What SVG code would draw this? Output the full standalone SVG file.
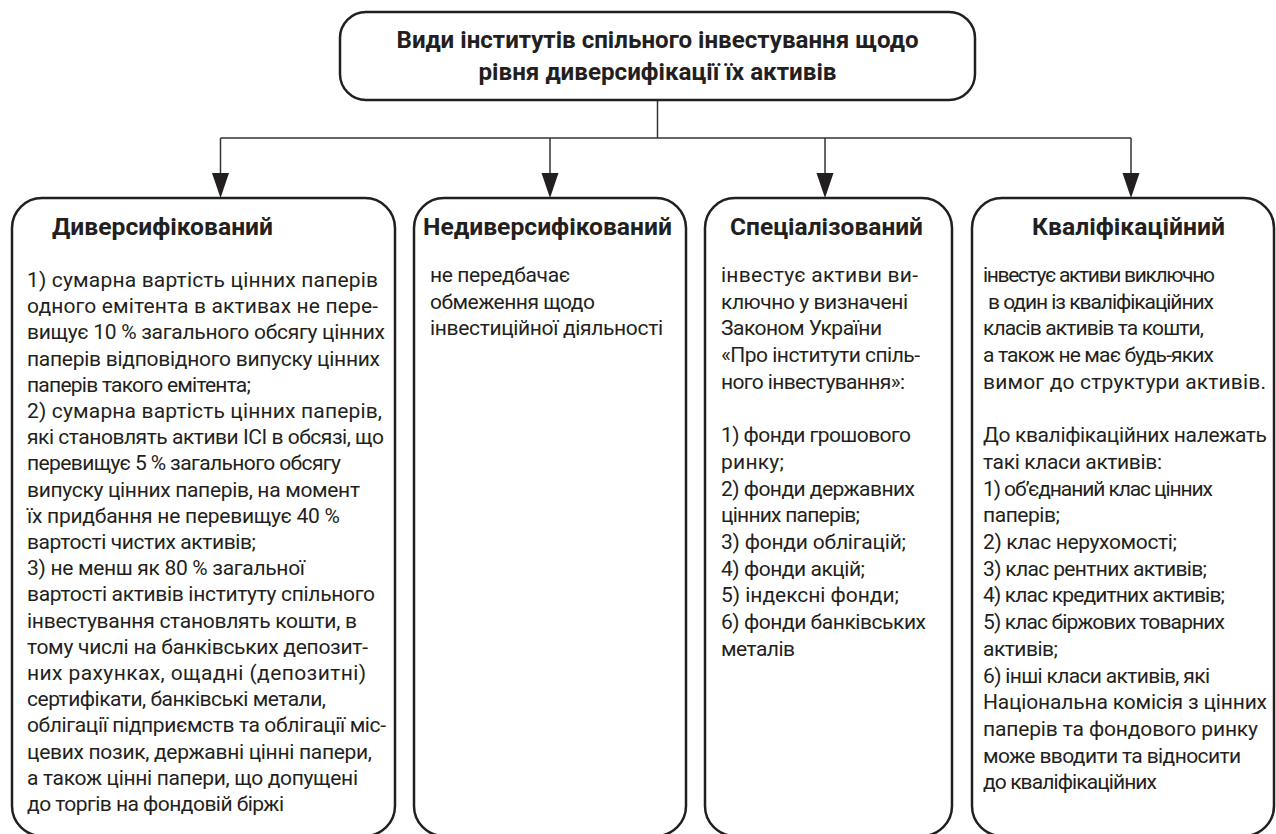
<svg xmlns="http://www.w3.org/2000/svg" width="1276" height="834" viewBox="0 0 1276 834">
<defs>
<style>
.box{fill:#fff;stroke:#231f20;stroke-width:2.5}
.hd{font-family:Roboto,"Noto Sans",sans-serif;font-weight:bold;font-size:24px;fill:#231f20;text-anchor:middle}
.tx{font-family:Roboto,"Noto Sans",sans-serif;font-size:21px;fill:#231f20}
.ln{fill:none;stroke:#333;stroke-width:1.5}
.ah{fill:#231f20}
</style>
</defs>
<rect width="1276" height="834" fill="#fff"/>
<g id="connectors">
<path class="ln" d="M657.5,100 V138"/>
<path class="ln" d="M220.5,138 H1131"/>
<path class="ln" d="M220.5,138 V173"/>
<path class="ln" d="M550,138 V173"/>
<path class="ln" d="M825,138 V173"/>
<path class="ln" d="M1131,138 V173"/>
<path class="ah" d="M212,173 L229,173 L220.5,198 Z"/>
<path class="ah" d="M541.5,173 L558.5,173 L550,198 Z"/>
<path class="ah" d="M816.5,173 L833.5,173 L825,198 Z"/>
<path class="ah" d="M1122.5,173 L1139.5,173 L1131,198 Z"/>
</g>
<g id="title">
<rect class="box" x="340" y="12" width="635" height="88" rx="26"/>
<text class="hd" x="657.5" y="48" textLength="522" lengthAdjust="spacingAndGlyphs">Види інститутів спільного інвестування щодо</text>
<text class="hd" x="657.5" y="80" textLength="358" lengthAdjust="spacingAndGlyphs">рівня диверсифікації їх активів</text>
</g>
<g id="diversified">
<rect class="box" x="12" y="198" width="383" height="638" rx="30"/>
<text class="hd" x="162.5" y="235" textLength="221" lengthAdjust="spacingAndGlyphs">Диверсифікований</text>
<text class="tx" x="27" y="287" textLength="351">1) сумарна вартість цінних паперів</text>
<text class="tx" x="27" y="313.2" textLength="351">одного емітента в активах не пере-</text>
<text class="tx" x="27" y="339.4" textLength="358">вищує 10 % загального обсягу цінних</text>
<text class="tx" x="27" y="365.6" textLength="353">паперів відповідного випуску цінних</text>
<text class="tx" x="27" y="391.8" textLength="224">паперів такого емітента;</text>
<text class="tx" x="27" y="418" textLength="355">2) сумарна вартість цінних паперів,</text>
<text class="tx" x="27" y="444.2" textLength="357">які становлять активи ICI в обсязі, що</text>
<text class="tx" x="27" y="470.4" textLength="314">перевищує 5 % загального обсягу</text>
<text class="tx" x="27" y="496.6" textLength="333">випуску цінних паперів, на момент</text>
<text class="tx" x="27" y="522.8" textLength="313">їх придбання не перевищує 40 %</text>
<text class="tx" x="27" y="549" textLength="229">вартості чистих активів;</text>
<text class="tx" x="27" y="575.2" textLength="278">3) не менш як 80 % загальної</text>
<text class="tx" x="27" y="601.4" textLength="348">вартості активів інституту спільного</text>
<text class="tx" x="27" y="627.6" textLength="330">інвестування становлять кошти, в</text>
<text class="tx" x="27" y="653.8" textLength="341">тому числі на банківських депозит-</text>
<text class="tx" x="27" y="680" textLength="339">них рахунках, ощадні (депозитні)</text>
<text class="tx" x="27" y="706.2" textLength="299">сертифікати, банківські метали,</text>
<text class="tx" x="27" y="732.4" textLength="359">облігації підприємств та облігації міс-</text>
<text class="tx" x="27" y="758.6" textLength="345">цевих позик, державні цінні папери,</text>
<text class="tx" x="27" y="784.8" textLength="331">а також цінні папери, що допущені</text>
<text class="tx" x="27" y="811" textLength="257">до торгів на фондовій біржі</text>
</g>
<g id="nondiversified">
<rect class="box" x="414" y="198" width="272" height="638" rx="30"/>
<text class="hd" x="547.5" y="235" textLength="249" lengthAdjust="spacingAndGlyphs">Недиверсифікований</text>
<text class="tx" x="430" y="282" textLength="140">не передбачає</text>
<text class="tx" x="430" y="308.7" textLength="165">обмеження щодо</text>
<text class="tx" x="430" y="335.4" textLength="233">інвестиційної діяльності</text>
</g>
<g id="specialized">
<rect class="box" x="705" y="198" width="247" height="638" rx="30"/>
<text class="hd" x="826.5" y="235" textLength="193" lengthAdjust="spacingAndGlyphs">Спеціалізований</text>
<text class="tx" x="721" y="282" textLength="197">інвестує активи ви-</text>
<text class="tx" x="721" y="308.7" textLength="187">ключно у визначені</text>
<text class="tx" x="721" y="335.4" textLength="161">Законом України</text>
<text class="tx" x="721" y="362.1" textLength="199">«Про інститути спіль-</text>
<text class="tx" x="721" y="388.8" textLength="184">ного інвестування»:</text>
<text class="tx" x="721" y="442.2" textLength="190">1) фонди грошового</text>
<text class="tx" x="721" y="468.9" textLength="63">ринку;</text>
<text class="tx" x="721" y="495.6" textLength="194">2) фонди державних</text>
<text class="tx" x="721" y="522.3" textLength="139">цінних паперів;</text>
<text class="tx" x="721" y="549" textLength="185">3) фонди облігацій;</text>
<text class="tx" x="721" y="575.7" textLength="144">4) фонди акцій;</text>
<text class="tx" x="721" y="602.4" textLength="178">5) індексні фонди;</text>
<text class="tx" x="721" y="629.1" textLength="205">6) фонди банківських</text>
<text class="tx" x="721" y="655.8" textLength="74">металів</text>
</g>
<g id="qualified">
<rect class="box" x="972" y="198" width="302" height="638" rx="30"/>
<text class="hd" x="1128.5" y="235" textLength="193" lengthAdjust="spacingAndGlyphs">Кваліфікаційний</text>
<text class="tx" x="983" y="282" textLength="232">інвестує активи виключно</text>
<text class="tx" x="988" y="308.7" textLength="226">в один із кваліфікаційних</text>
<text class="tx" x="983" y="335.4" textLength="221">класів активів та кошти,</text>
<text class="tx" x="983" y="362.1" textLength="231">а також не має будь-яких</text>
<text class="tx" x="983" y="388.8" textLength="283">вимог до структури активів.</text>
<text class="tx" x="983" y="442.2" textLength="284">До кваліфікаційних належать</text>
<text class="tx" x="983" y="468.9" textLength="179">такі класи активів:</text>
<text class="tx" x="983" y="495.6" textLength="230">1) об’єднаний клас цінних</text>
<text class="tx" x="983" y="522.3" textLength="77">паперів;</text>
<text class="tx" x="983" y="549" textLength="194">2) клас нерухомості;</text>
<text class="tx" x="983" y="575.7" textLength="224">3) клас рентних активів;</text>
<text class="tx" x="983" y="602.4" textLength="242">4) клас кредитних активів;</text>
<text class="tx" x="983" y="629.1" textLength="242">5) клас біржових товарних</text>
<text class="tx" x="983" y="655.8" textLength="75">активів;</text>
<text class="tx" x="983" y="682.5" textLength="227">6) інші класи активів, які</text>
<text class="tx" x="983" y="709.2" textLength="284">Національна комісія з цінних</text>
<text class="tx" x="983" y="735.9" textLength="275">паперів та фондового ринку</text>
<text class="tx" x="983" y="762.6" textLength="258">може вводити та відносити</text>
<text class="tx" x="983" y="789.3" textLength="174">до кваліфікаційних</text>
</g>
</svg>
